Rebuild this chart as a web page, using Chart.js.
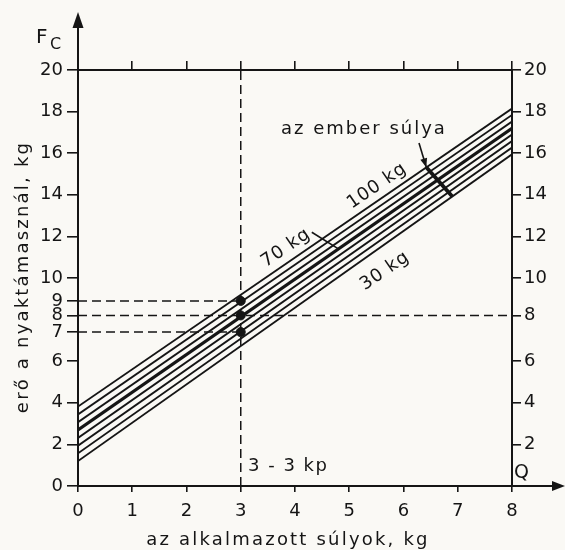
<!DOCTYPE html>
<html>
<head>
<meta charset="utf-8">
<script src="https://cdn.jsdelivr.net/npm/chart.js@4/dist/chart.umd.min.js"></script>
<style>
  html, body { margin: 0; padding: 0; background: #faf9f5; }
  #wrap { width: 565px; height: 550px; }
</style>
</head>
<body>
<div id="wrap"><canvas id="c" width="565" height="550"></canvas></div>
<script>
// Body weight of the person for each line (kg)
const weights = [30, 40, 50, 60, 70, 80, 90, 100];
// Force at the neck support (kg) at the two ends of the applied-weight range
const forceAtQ0 = [1.2, 1.57, 1.94, 2.31, 2.7, 3.07, 3.44, 3.82];
const forceAtQ8 = [15.95, 16.27, 16.58, 16.9, 17.2, 17.52, 17.84, 18.15];
const qEnds = [0, 8];
const boldWeight = 70;

// Worked example: 3 - 3 kp applied weights
const sampleQ = 3;
const readings = [8.9, 8.2, 7.4];       // read-off forces for 90, 70, 50 kg
const readingEndsQ = [3, 8, 3];         // how far each dashed reading runs

// Axis ticks
const xTicks = [0, 1, 2, 3, 4, 5, 6, 7, 8];
const topTicks = [1, 2, 3, 4, 5, 6, 7, 8];
const leftTickValues = [0, 2, 4, 6, 7.4, 8.2, 8.9, 10, 12, 14, 16, 18, 20];
const leftTickLabels = ['0', '2', '4', '6', '7', '8', '9', '10', '12', '14', '16', '18', '20'];
const rightTickValues = [2, 4, 6, 8.2, 10, 12, 14, 16, 18, 20];
const rightTickLabels = ['2', '4', '6', '8', '10', '12', '14', '16', '18', '20'];

const INK = '#151515';
const FONT = 'DejaVu Sans';

const lineSets = weights.map((w, i) => ({
  type: 'line',
  label: w + ' kg',
  data: [{ x: qEnds[0], y: forceAtQ0[i] }, { x: qEnds[1], y: forceAtQ8[i] }],
  borderColor: INK,
  borderWidth: w === boldWeight ? 3.2 : 1.9,
  pointRadius: 0,
  tension: 0,
  fill: false
}));

const dashStyle = { borderColor: INK, borderWidth: 1.5, borderDash: [9, 5], pointRadius: 0, fill: false, type: 'line' };

const dashedSets = [
  Object.assign({ data: [{ x: sampleQ, y: 0 }, { x: sampleQ, y: 20 }] }, dashStyle),
  ...readings.map((r, i) => Object.assign({ data: [{ x: 0, y: r }, { x: readingEndsQ[i], y: r }] }, dashStyle))
];

const dotSet = {
  type: 'scatter',
  data: readings.map(r => ({ x: sampleQ, y: r })),
  backgroundColor: INK,
  borderColor: INK,
  pointRadius: 4.5
};

function tickScale(values, labels, opts) {
  return Object.assign({
    type: 'linear',
    afterBuildTicks: s => { s.ticks = values.map(v => ({ value: v })); },
    ticks: {
      autoSkip: false,
      color: INK,
      font: { family: FONT, size: 18 },
      callback: (v, i) => labels ? labels[i] : ''
    },
    grid: { drawOnChartArea: false, drawTicks: true, color: INK, lineWidth: 1.6 },
    border: { display: true, color: INK, width: 2 }
  }, opts);
}

const scales = {
  x: tickScale(xTicks, xTicks.map(String), { position: 'bottom', min: 0, max: 8 }),
  xTop: tickScale(topTicks, null, { position: 'top', min: 0, max: 8 }),
  y: tickScale(leftTickValues, leftTickLabels, { position: 'left', min: 0, max: 20 }),
  yRight: tickScale(rightTickValues, rightTickLabels, { position: 'right', min: 0, max: 20 })
};
scales.x.ticks.padding = 9; scales.x.grid.tickLength = 6; scales.x.afterFit = s => { s.height = 64; };
scales.xTop.ticks.padding = 0; scales.xTop.grid.tickLength = 9; scales.xTop.afterFit = s => { s.height = 70; };
scales.y.ticks.padding = 4; scales.y.grid.tickLength = 11; scales.y.afterFit = s => { s.width = 78; };
scales.yRight.ticks.padding = 3; scales.yRight.grid.tickLength = 9; scales.yRight.afterFit = s => { s.width = 53; };

function arrowHead(ctx, tipX, tipY, angle, len, half) {
  ctx.save();
  ctx.translate(tipX, tipY);
  ctx.rotate(angle);
  ctx.beginPath();
  ctx.moveTo(0, 0);
  ctx.lineTo(-len, -half);
  ctx.lineTo(-len, half);
  ctx.closePath();
  ctx.fill();
  ctx.restore();
}

function lineValueAt(i, q) {
  return forceAtQ0[i] + (forceAtQ8[i] - forceAtQ0[i]) * (q - qEnds[0]) / (qEnds[1] - qEnds[0]);
}

const decorations = {
  id: 'decorations',
  beforeDraw(chart) {
    const ctx = chart.ctx;
    ctx.save();
    ctx.fillStyle = '#faf9f5';
    ctx.fillRect(0, 0, chart.width, chart.height);
    ctx.restore();
  },
  afterDraw(chart) {
    const ctx = chart.ctx;
    const xs = chart.scales.x, ys = chart.scales.y;
    const px = v => xs.getPixelForValue(v);
    const py = v => ys.getPixelForValue(v);
    const area = chart.chartArea;
    ctx.save();
    ctx.strokeStyle = INK;
    ctx.fillStyle = INK;

    // axis extensions with arrowheads
    ctx.lineWidth = 2;
    ctx.beginPath();
    ctx.moveTo(px(0), area.top);
    ctx.lineTo(px(0), 26);
    ctx.moveTo(area.right, py(0));
    ctx.lineTo(553, py(0));
    ctx.stroke();
    arrowHead(ctx, px(0), 12, -Math.PI / 2, 16, 5.5);
    arrowHead(ctx, 565, py(0), 0, 13, 5);

    // axis titles
    ctx.textBaseline = 'alphabetic';
    ctx.letterSpacing = '2.2px';
    ctx.font = `18px ${FONT}`;
    ctx.textAlign = 'center';
    ctx.fillText('az alkalmazott súlyok, kg', 288, 545);
    ctx.save();
    ctx.translate(28, 277);
    ctx.rotate(-Math.PI / 2);
    ctx.fillText('erő a nyaktámasznál, kg', 0, 0);
    ctx.restore();

    ctx.textAlign = 'left';
    ctx.letterSpacing = '0px';
    ctx.font = `20px ${FONT}`;
    ctx.fillText('F', 36, 43);
    ctx.font = `16px ${FONT}`;
    ctx.fillText('C', 50, 49);
    ctx.font = `19px ${FONT}`;
    ctx.fillText('Q', 514, 478);
    ctx.font = `18px ${FONT}`;
    ctx.letterSpacing = '1.5px';
    ctx.fillText('3 - 3 kp', 248, 471);
    ctx.letterSpacing = '2px';
    ctx.fillText('az ember súlya', 281, 134);

    // labels along the band
    const top = weights.length - 1;
    const ang = Math.atan2(py(forceAtQ8[top]) - py(forceAtQ0[top]), px(8) - px(0));
    const rotated = (txt, x, y) => {
      ctx.save();
      ctx.translate(x, y);
      ctx.rotate(ang);
      ctx.textAlign = 'center';
      ctx.textBaseline = 'middle';
      ctx.fillText(txt, 0, 0);
      ctx.restore();
    };
    ctx.letterSpacing = '1px';
    rotated('100 kg', 377, 186);
    rotated('70 kg', 286, 248);
    rotated('30 kg', 385, 271);

    // leader from the 70 kg label to its line
    const bi = weights.indexOf(boldWeight);
    ctx.lineWidth = 1.6;
    ctx.beginPath();
    ctx.moveTo(px(4.31), py(12.2));
    ctx.lineTo(px(4.8), py(lineValueAt(bi, 4.8)));
    ctx.stroke();

    // arrow to the body-weight scale and the scale mark across the band
    const tipQ = 6.42;
    const tipX = px(tipQ), tipY = py(lineValueAt(top, tipQ));
    const sx = 419, sy = 143;
    ctx.beginPath();
    ctx.moveTo(sx, sy);
    ctx.lineTo(tipX, tipY);
    ctx.stroke();
    arrowHead(ctx, tipX, tipY, Math.atan2(tipY - sy, tipX - sx), 9, 3.5);
    ctx.lineWidth = 3.8;
    ctx.beginPath();
    ctx.moveTo(tipX, tipY);
    ctx.lineTo(px(6.9), py(lineValueAt(0, 6.9)));
    ctx.stroke();
    ctx.restore();
  }
};

new Chart(document.getElementById('c'), {
  data: { datasets: [...lineSets, ...dashedSets, dotSet] },
  options: {
    responsive: false,
    animation: false,
    devicePixelRatio: 1,
    layout: { padding: 0 },
    plugins: { legend: { display: false }, tooltip: { enabled: false } },
    scales
  },
  plugins: [decorations]
});
</script>
</body>
</html>
